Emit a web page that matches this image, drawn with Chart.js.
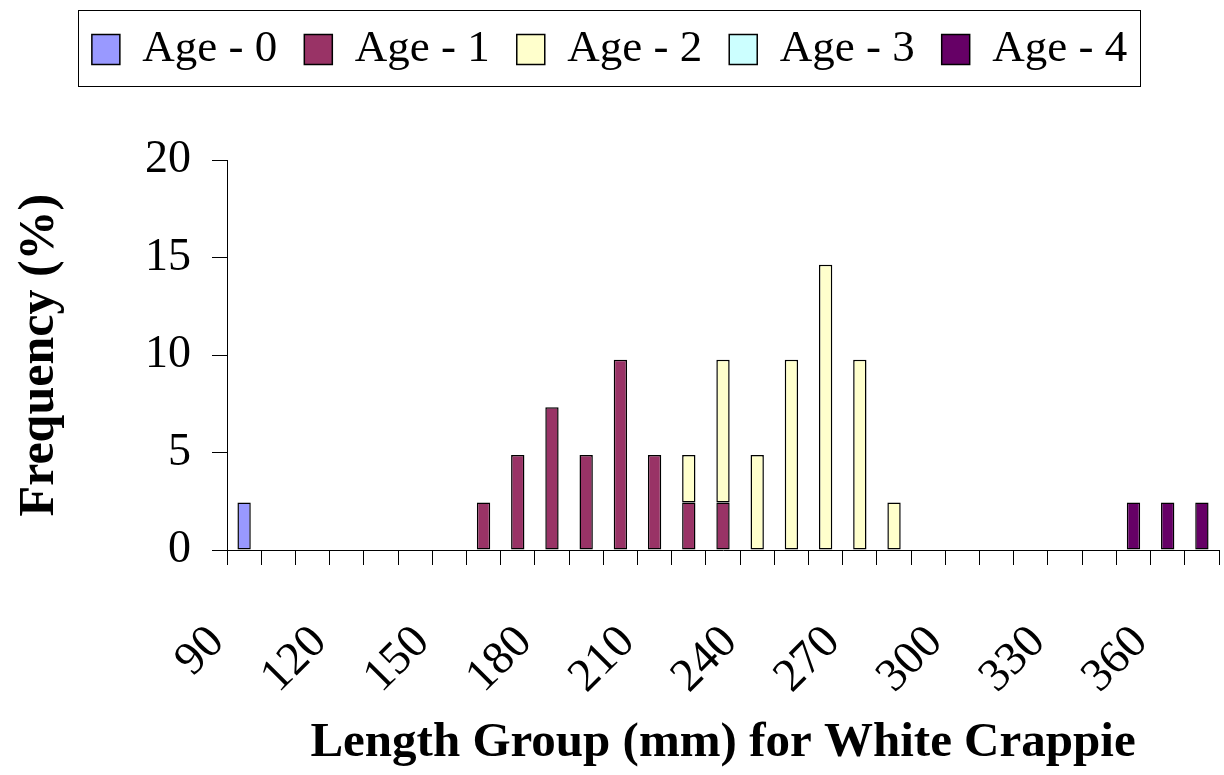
<!DOCTYPE html>
<html>
<head>
<meta charset="utf-8">
<script src="https://cdn.jsdelivr.net/npm/chart.js@4/dist/chart.umd.min.js"></script>
<style>
  html, body { margin: 0; padding: 0; background: #fff; }
  #wrap { width: 1224px; height: 775px; }
</style>
</head>
<body>
<div id="wrap"><canvas id="c" width="1224" height="775"></canvas></div>
<script>
// Length groups (mm)
const categories = [90,100,110,120,130,140,150,160,170,180,190,200,210,220,230,240,250,260,270,280,290,300,310,320,330,340,350,360,370];
const seriesNames = ['Age - 0', 'Age - 1', 'Age - 2', 'Age - 3', 'Age - 4'];
const age0 = [2.44,null,null,null,null,null,null,null,null,null,null,null,null,null,null,null,null,null,null,null,null,null,null,null,null,null,null,null,null];
const age1 = [null,null,null,null,null,null,null,2.44,4.88,7.32,4.88,9.76,4.88,2.44,2.44,null,null,null,null,null,null,null,null,null,null,null,null,null,null];
const age2 = [null,null,null,null,null,null,null,null,null,null,null,null,null,2.44,7.32,4.88,9.76,14.63,9.76,2.44,null,null,null,null,null,null,null,null,null];
const age3 = [null,null,null,null,null,null,null,null,null,null,null,null,null,null,null,null,null,null,null,null,null,null,null,null,null,null,null,null,null];
const age4 = [null,null,null,null,null,null,null,null,null,null,null,null,null,null,null,null,null,null,null,null,null,null,null,null,null,null,2.44,2.44,2.44];
const yTicks = [0, 5, 10, 15, 20];

const colors = ['#9999FF', '#993366', '#FFFFCC', '#CCFFFF', '#660066'];
const seriesData = [age0, age1, age2, age3, age4];

const legendBorder = {
  id: 'legendBorder',
  afterDraw(chart) {
    const lg = chart.legend;
    if (!lg || !lg.legendHitBoxes || !lg.legendHitBoxes.length) return;
    const hb = lg.legendHitBoxes;
    let l = Infinity, r = -Infinity;
    hb.forEach(h => { l = Math.min(l, h.left); r = Math.max(r, h.left + h.width); });
    const ctx = chart.ctx;
    ctx.save();
    ctx.strokeStyle = '#000';
    ctx.lineWidth = 1;
    ctx.strokeRect(Math.round(l - 14) + 0.5, 10.5, Math.round(r - l + 27), 76);
    ctx.restore();
  }
};

new Chart(document.getElementById('c'), {
  type: 'bar',
  data: {
    labels: categories.map(String),
    datasets: seriesData.map((d, i) => ({
      label: seriesNames[i],
      data: d,
      backgroundColor: colors[i],
      borderColor: '#000',
      borderWidth: 1.5,
      borderSkipped: false,
      barPercentage: 0.39,
      categoryPercentage: 1.0
    }))
  },
  options: {
    responsive: false,
    animation: false,
    layout: { padding: { left: 0, right: 5, top: 0, bottom: 0 } },
    plugins: {
      legend: {
        position: 'top',
        weight: 3000,
        labels: {
          color: '#000',
          font: { family: '"Liberation Serif", "Times New Roman", serif', size: 45 },
          boxWidth: 28,
          boxHeight: 30,
          padding: 27
        }
      },
      title: {
        display: true,
        text: '',
        weight: 2000,
        font: { size: 1 },
        padding: { top: 0, bottom: 77 }
      },
      tooltip: { enabled: false }
    },
    scales: {
      x: {
        stacked: true,
        offset: true,
        grid: {
          offset: true,
          drawOnChartArea: false,
          drawTicks: true,
          tickLength: 15,
          color: '#000',
          lineWidth: 1
        },
        border: { display: true, color: '#000', width: 1 },
        ticks: {
          autoSkip: false,
          maxRotation: 45,
          minRotation: 45,
          padding: 50,
          labelOffset: -27,
          color: '#000',
          font: { family: '"Liberation Serif", "Times New Roman", serif', size: 47 },
          callback: function(v, i) { return (i % 3 === 0) ? categories[i].toString() : ''; }
        },
        title: {
          display: true,
          text: 'Length Group (mm) for White Crappie',
          color: '#000',
          font: { family: '"Liberation Serif", "Times New Roman", serif', size: 49, weight: 'bold' },
          padding: { top: 0, bottom: 2 }
        },
        afterFit(scale) { scale.height = 225; scale.paddingLeft = 0; scale.paddingRight = 0; }
      },
      y: {
        stacked: true,
        min: 0,
        max: 20,
        afterBuildTicks(scale) { scale.ticks = yTicks.map(v => ({ value: v })); },
        grid: {
          drawOnChartArea: false,
          drawTicks: true,
          tickLength: 15,
          color: '#000',
          lineWidth: 1
        },
        border: { display: true, color: '#000', width: 1 },
        ticks: {
          padding: 21,
          color: '#000',
          font: { family: '"Liberation Serif", "Times New Roman", serif', size: 46 }
        },
        title: {
          display: true,
          text: 'Frequency (%)',
          color: '#000',
          font: { family: '"Liberation Serif", "Times New Roman", serif', size: 50, weight: 'bold' },
          padding: { top: 10, bottom: 0 }
        },
        afterFit(scale) { scale.width = 227; scale.paddingTop = 0; scale.paddingBottom = 0; }
      }
    }
  },
  plugins: [legendBorder]
});
</script>
</body>
</html>
